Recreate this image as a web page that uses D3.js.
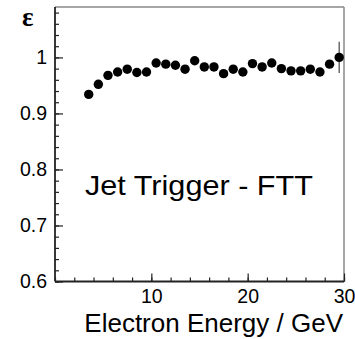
<!DOCTYPE html>
<html>
<head>
  <meta charset="utf-8">
  <script src="https://d3js.org/d3.v7.min.js"></script>
  <style>
    body { margin: 0; background: #fff; }
    svg { display: block; }
    text { font-family: "Liberation Sans", Arial, sans-serif; fill: #000; }
  </style>
</head>
<body>
  <svg width="355" height="339"></svg>
  <script>
    // electron energy bin centres (GeV)
    const energy = [3.5, 4.5, 5.5, 6.5, 7.5, 8.5, 9.5, 10.5, 11.5, 12.5, 13.5, 14.5, 15.5, 16.5,
                    17.5, 18.5, 19.5, 20.5, 21.5, 22.5, 23.5, 24.5, 25.5, 26.5, 27.5, 28.5, 29.5];
    const efficiency = [0.934, 0.952, 0.968, 0.974, 0.979, 0.973, 0.974, 0.990, 0.988, 0.986, 0.979, 0.994, 0.983, 0.983,
                        0.971, 0.979, 0.974, 0.989, 0.983, 0.990, 0.980, 0.976, 0.976, 0.979, 0.974, 0.988, 1.000];
    const errors = [0.004, 0.004, 0.004, 0.004, 0.004, 0.004, 0.004, 0.004, 0.004, 0.004, 0.004, 0.004, 0.004, 0.004,
                    0.004, 0.004, 0.004, 0.004, 0.004, 0.004, 0.004, 0.004, 0.004, 0.004, 0.004, 0.004, 0.028];
    const xTicks = [10, 20, 30];
    const yTicks = [0.6, 0.7, 0.8, 0.9, 1];

    const mLeft = 55, mRight = 344, mTop = 7, mBottom = 281.5;
    const svg = d3.select("svg");

    const x = d3.scaleLinear().domain([0, 30]).range([mLeft, mRight]);
    const y = d3.scaleLinear().domain([0.6, 1.09]).range([mBottom, mTop]);

    // frame: top & right lighter
    svg.append("line").attr("x1", mLeft).attr("x2", mRight).attr("y1", mTop).attr("y2", mTop)
      .attr("stroke", "#888").attr("stroke-width", 1.5);
    svg.append("line").attr("x1", mRight).attr("x2", mRight).attr("y1", mTop).attr("y2", mBottom)
      .attr("stroke", "#888").attr("stroke-width", 1.5);

    // ticks point inward, ROOT style
    const yAxis = d3.axisLeft(y).tickValues(d3.range(0.6, 1.0901, 0.02)).tickSize(-4).tickFormat("");
    svg.append("g").attr("transform", `translate(${mLeft},0)`).call(yAxis)
      .call(g => g.selectAll(".tick line").attr("stroke", "#222").attr("stroke-width", 1.2))
      .call(g => g.select(".domain").remove());
    const yMajor = d3.axisLeft(y).tickValues(yTicks).tickSize(-8).tickPadding(8).tickFormat(d3.format("~g"));
    svg.append("g").attr("transform", `translate(${mLeft},0)`).call(yMajor)
      .call(g => g.selectAll(".tick line").attr("stroke", "#222").attr("stroke-width", 1.2))
      .call(g => g.select(".domain").remove())
      .call(g => g.selectAll("text").attr("font-size", 19.5).attr("font-family", "Liberation Sans, Arial, sans-serif"));

    const xAxis = d3.axisBottom(x).tickValues(d3.range(0, 30.01, 2)).tickSize(-4).tickFormat("");
    svg.append("g").attr("transform", `translate(0,${mBottom})`).call(xAxis)
      .call(g => g.selectAll(".tick line").attr("stroke", "#222").attr("stroke-width", 1.2))
      .call(g => g.select(".domain").remove());
    const xMajor = d3.axisBottom(x).tickValues(xTicks).tickSize(-8).tickPadding(8).tickFormat(d3.format("d"));
    svg.append("g").attr("transform", `translate(0,${mBottom})`).call(xMajor)
      .call(g => g.selectAll(".tick line").attr("stroke", "#222").attr("stroke-width", 1.2))
      .call(g => g.select(".domain").remove())
      .call(g => g.selectAll("text").attr("font-size", 19.5).attr("font-family", "Liberation Sans, Arial, sans-serif"));

    // left and bottom axis lines
    svg.append("line").attr("x1", mLeft).attr("x2", mLeft).attr("y1", mTop).attr("y2", mBottom)
      .attr("stroke", "#222").attr("stroke-width", 1.8);
    svg.append("line").attr("x1", mLeft).attr("x2", mRight).attr("y1", mBottom).attr("y2", mBottom)
      .attr("stroke", "#222").attr("stroke-width", 1.8);

    const pts = energy.map((e, i) => ({ e, v: efficiency[i], err: errors[i] }));

    svg.selectAll("line.err").data(pts).enter().append("line")
      .attr("class", "err")
      .attr("x1", d => x(d.e)).attr("x2", d => x(d.e))
      .attr("y1", d => y(d.v - d.err)).attr("y2", d => y(d.v + d.err))
      .attr("stroke", "#555").attr("stroke-width", 1.3);

    svg.selectAll("circle").data(pts).enter().append("circle")
      .attr("cx", d => x(d.e)).attr("cy", d => y(d.v))
      .attr("r", 4.7).attr("fill", "#000");

    svg.append("text").attr("x", 85).attr("y", 195)
      .attr("font-size", 28.5).attr("textLength", 228).attr("lengthAdjust", "spacingAndGlyphs")
      .text("Jet Trigger - FTT");

    svg.append("text").attr("x", 343).attr("y", 332).attr("text-anchor", "end")
      .attr("font-size", 26).text("Electron Energy / GeV");

    svg.append("text").attr("x", 22).attr("y", 26)
      .attr("font-size", 27).attr("font-weight", "bold")
      .style("font-family", "Liberation Serif, serif").text("ε");
  </script>
</body>
</html>
